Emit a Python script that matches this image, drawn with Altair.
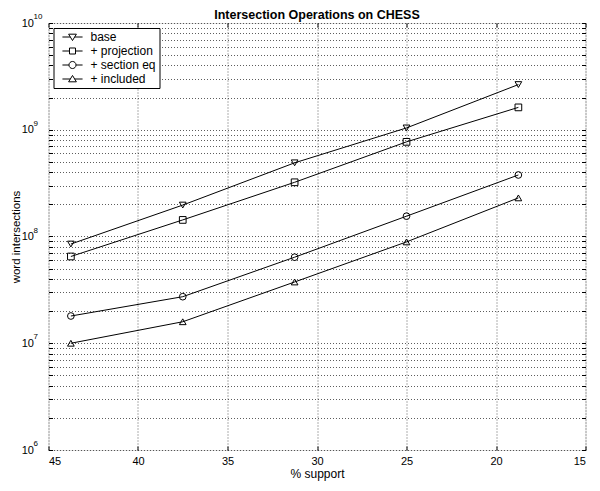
import altair as alt
import pandas as pd

# ---- data ----
support = [43.75, 37.5, 31.25, 25.0, 18.75]
series_names = ["base", "+ projection", "+ section eq", "+ included"]
base = [8.5e7, 1.97e8, 4.9e8, 1.04e9, 2.65e9]
projection = [6.5e7, 1.43e8, 3.22e8, 7.7e8, 1.62e9]
section_eq = [1.8e7, 2.73e7, 6.4e7, 1.55e8, 3.77e8]
included = [1.0e7, 1.59e7, 3.75e7, 8.9e7, 2.3e8]

x_ticks = [15, 20, 25, 30, 35, 40, 45]
y_decades = [1e6, 1e7, 1e8, 1e9, 1e10]
y_exponents = ["6", "7", "8", "9", "10"]
y_grid = [m * d for d in [1e6, 1e7, 1e8, 1e9] for m in range(1, 10)] + [1e10]

rows = []
for name, vals in zip(series_names, [base, projection, section_eq, included]):
    for s, v in zip(support, vals):
        rows.append({"support": s, "value": v, "series": name})
df = pd.DataFrame(rows)
exp_df = pd.DataFrame({"value": y_decades, "exp": y_exponents})

label_expr = " || ".join(f"datum.value == {d:.0f}" for d in y_decades)
label_expr = f"({label_expr}) ? '10' : ''"

FONT = "Liberation Sans"
W, H = 537, 427

xs = alt.Scale(domain=[15, 45], reverse=True, nice=False, zero=False)
ys = alt.Scale(type="log", domain=[1e6, 1e10], nice=False)

grid_style = dict(grid=True, gridColor="#333333", gridDash=[1, 2], gridWidth=0.8)

lines = alt.Chart(df).mark_line(color="black", strokeWidth=1).encode(
    x=alt.X("support:Q", scale=xs, title="% support",
            axis=alt.Axis(values=x_ticks, orient="bottom", domain=False,
                          tickSize=4, offset=-4, tickColor="black",
                          labelPadding=5, labelFontSize=11, labelFont=FONT,
                          labelColor="black", titleFont=FONT, titleFontSize=12,
                          titleFontWeight="normal", titleColor="black",
                          titlePadding=2, **grid_style)),
    y=alt.Y("value:Q", scale=ys, title="word intersections",
            axis=alt.Axis(values=y_grid, orient="left", domain=False,
                          tickSize=4, offset=-4, tickColor="black",
                          labelExpr=label_expr, labelOverlap=False,
                          labelPadding=15, labelFontSize=11, labelFont=FONT,
                          labelColor="black", titleFont=FONT, titleFontSize=11.5,
                          titleFontWeight="normal", titleColor="black",
                          titlePadding=0, **grid_style)),
    detail="series:N",
)

points = alt.Chart(df).mark_point(filled=False, color="black", strokeWidth=1, size=45, opacity=1).encode(
    x=alt.X("support:Q", scale=xs,
            axis=alt.Axis(values=x_ticks, orient="top", domain=False, labels=False,
                          tickSize=4, offset=-4, tickColor="black", title=None, grid=False)),
    y=alt.Y("value:Q", scale=ys,
            axis=alt.Axis(values=y_grid, orient="right", domain=False, labels=False,
                          tickSize=4, offset=-4, tickColor="black", title=None, grid=False)),
    shape=alt.Shape("series:N",
                    scale=alt.Scale(domain=series_names,
                                    range=["triangle-down", "square", "circle", "triangle-up"]),
                    legend=None),
)

exponents = alt.Chart(exp_df).mark_text(
    align="left", baseline="middle", font=FONT, fontSize=8, color="black", dx=-15, dy=-6
).encode(
    x=alt.value(0),
    y=alt.Y("value:Q", scale=ys, axis=None),
    text="exp:N",
)

leg_paths = [
    "M-2.85,0H-0.61M0.61,0H2.85M-1.1,-0.8L1.1,-0.8L0,1.0Z",
    "M-2.85,0H-0.85M0.85,0H2.85M-0.85,-0.85H0.85V0.85H-0.85Z",
    "M-2.85,0H-1M1,0H2.85M-1,0A1,1 0 1,0 1,0A1,1 0 1,0 -1,0Z",
    "M-2.85,0H-0.61M0.61,0H2.85M-1.1,0.8L1.1,0.8L0,-1.0Z",
]

legend_layer = alt.Chart(df).mark_point(filled=False, color="black", size=50).encode(
    x=alt.X("support:Q", scale=xs, axis=None),
    y=alt.Y("value:Q", scale=ys, axis=None),
    opacity=alt.value(0),
    shape=alt.Shape("series:N",
                    scale=alt.Scale(domain=series_names, range=leg_paths),
                    legend=alt.Legend(title=None, orient="top-left", offset=5,
                                      padding=3, rowPadding=2,
                                      strokeColor="black", fillColor="white",
                                      symbolSize=50, symbolStrokeColor="black",
                                      symbolFillColor="white", symbolStrokeWidth=1,
                                      symbolOpacity=1, symbolOffset=10,
                                      labelOffset=12, labelFont=FONT,
                                      labelFontSize=12, labelColor="black")),
)

chart = alt.layer(lines, points, exponents, legend_layer).resolve_scale(
    shape="independent"
).resolve_axis(x="independent", y="independent").properties(
    width=W, height=H,
    title=alt.Title("Intersection Operations on CHESS", font=FONT, fontSize=12.5,
                    fontWeight="bold", color="black", offset=0, dy=8, anchor="middle"),
    padding={"left": 40.5, "top": 15, "right": 6.5, "bottom": 33},
    autosize=alt.AutoSizeParams(type="none"),
).configure_view(stroke="black", strokeWidth=1.2).configure(background="white")

chart.save("out.html", embed_options={"renderer": "svg", "actions": False})
